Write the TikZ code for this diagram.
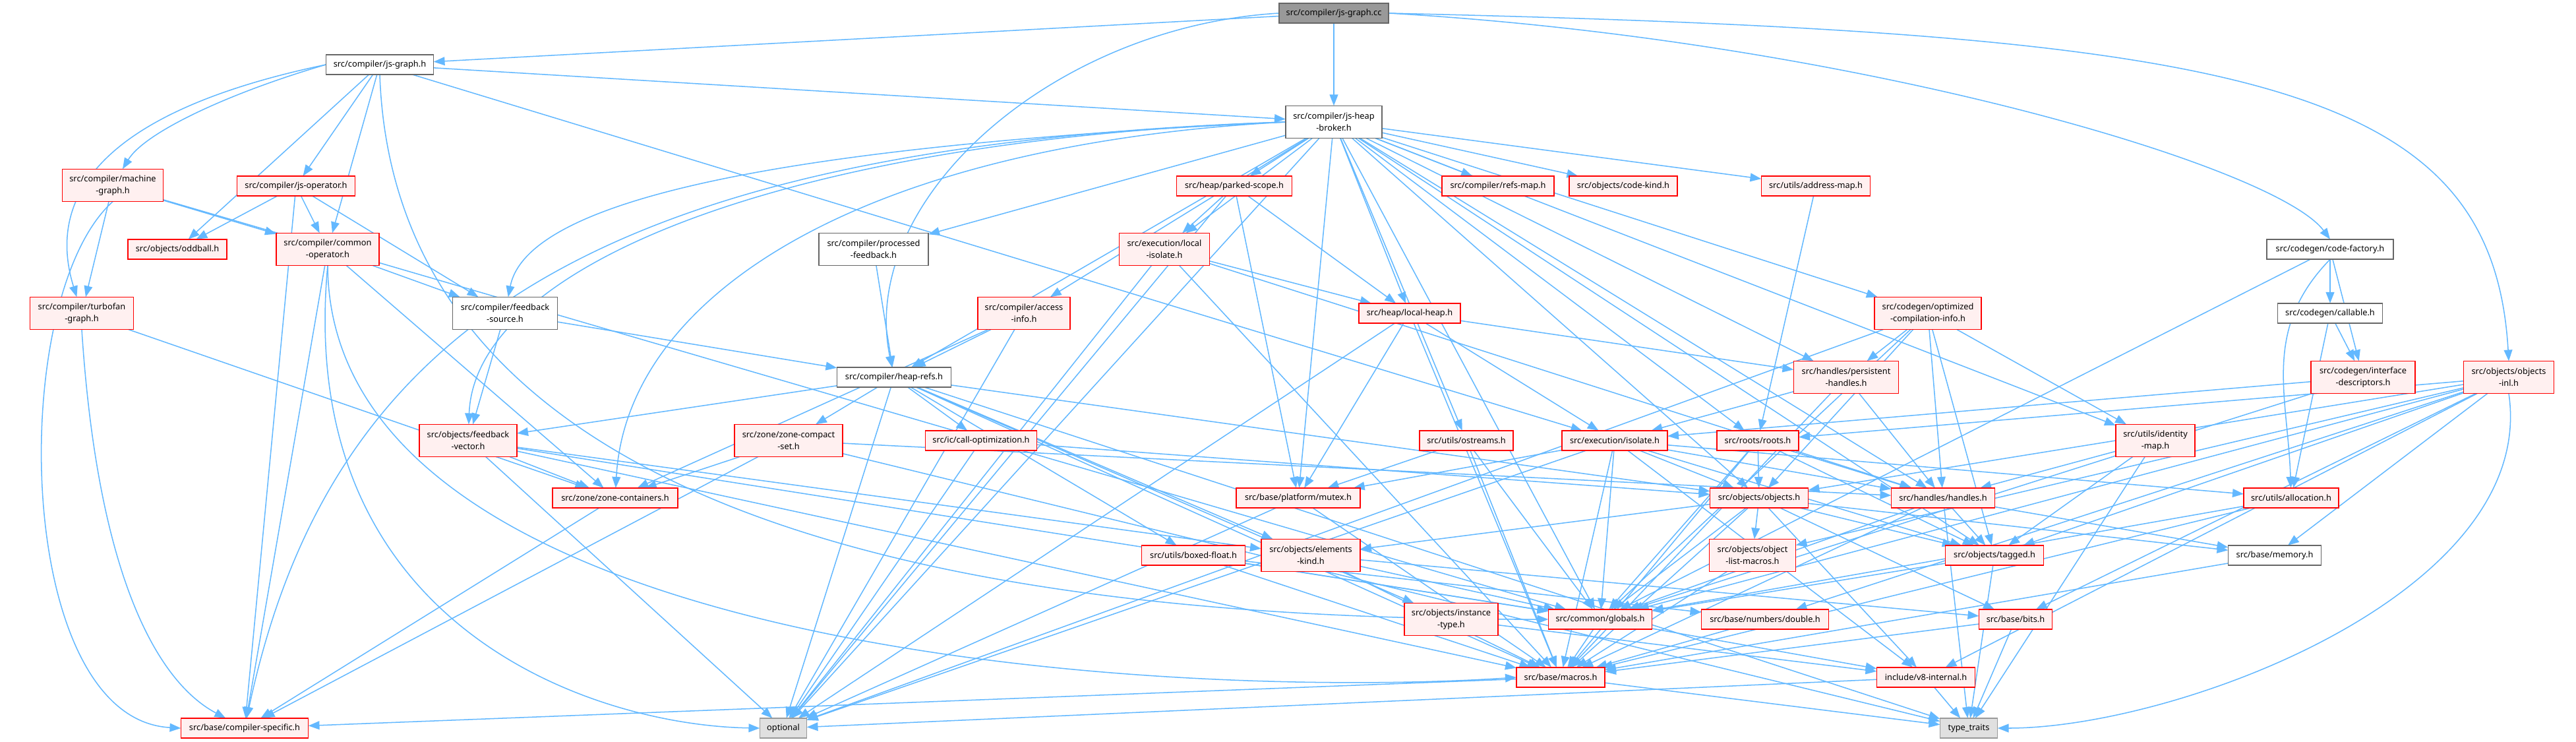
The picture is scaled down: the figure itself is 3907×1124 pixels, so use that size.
\documentclass[tikz,border=0pt]{standalone}
\usepackage{fontspec}
\setmainfont{Noto Sans}
\usetikzlibrary{arrows.meta}
\definecolor{edgeblue}{HTML}{63B8FF}
\definecolor{redline}{HTML}{FF0000}
\definecolor{redfill}{HTML}{FFF0F0}
\definecolor{grayline}{HTML}{666666}
\definecolor{darkfill}{HTML}{999999}
\definecolor{lightfill}{HTML}{E0E0E0}
\pgfdeclarelayer{bg}
\pgfsetlayers{bg,main}
\tikzset{
  file/.style={draw=grayline,fill=white,line width=0.42pt,align=center,inner sep=2pt,minimum height=30pt,font=\fontsize{12.8}{18}\selectfont},
  redfile/.style={file,draw=redline,fill=redfill},
  topfile/.style={file,fill=darkfill},
  sysfile/.style={file,draw=darkfill,fill=lightfill},
  twoline/.style={minimum height=49pt},
  arrow/.style={-{Triangle[length=4.2pt,width=3.2pt]},line width=0.38pt,color=edgeblue}
}
\begin{document}
\begin{tikzpicture}[x=1pt,y=-1pt,scale=0.25,transform shape]
\useasboundingbox (0,0) rectangle (3907,1124);
% top rows
\node[topfile,minimum width=166pt](cc) at (2023,20){src/compiler/js-graph.cc};
\node[file,minimum width=163pt](jsg) at (576,98){src/compiler/js-graph.h};
\node[file,twoline,minimum width=146pt](jhb) at (2023,185){src/compiler/js-heap\\-broker.h};
\node[redfile,twoline,minimum width=153pt](mg) at (171,281){src/compiler/machine\\-graph.h};
\node[redfile,minimum width=179pt](jso) at (449,282){src/compiler/js-operator.h};
\node[redfile,minimum width=175pt](ps) at (1872,282){src/heap/parked-scope.h};
\node[redfile,minimum width=170pt](rm) at (2272,282){src/compiler/refs-map.h};
\node[redfile,minimum width=164pt](ck) at (2462,282){src/objects/code-kind.h};
\node[redfile,minimum width=165pt](am) at (2754,282){src/utils/address-map.h};
\node[redfile,minimum width=150pt](odd) at (269,378){src/objects/oddball.h};
\node[redfile,twoline,minimum width=156pt](co) at (497,378){src/compiler/common\\-operator.h};
\node[file,twoline,minimum width=166pt](pf) at (1325,378){src/compiler/processed\\-feedback.h};
\node[redfile,twoline,minimum width=137pt](li) at (1766,378){src/execution/local\\-isolate.h};
\node[file,minimum width=192pt](cf) at (3534,378){src/codegen/code-factory.h};
\node[redfile,twoline,minimum width=157pt](tg) at (124,475){src/compiler/turbofan\\-graph.h};
\node[file,twoline,minimum width=159pt](fs) at (766,475){src/compiler/feedback\\-source.h};
\node[redfile,twoline,minimum width=140pt](ai) at (1553,475){src/compiler/access\\-info.h};
\node[redfile,minimum width=154pt](lh) at (2138,475){src/heap/local-heap.h};
\node[redfile,twoline,minimum width=162pt](oci) at (2924,475){src/codegen/optimized\\-compilation-info.h};
\node[file,minimum width=159pt](cal) at (3534,475){src/codegen/callable.h};
\node[file,minimum width=173pt](hr) at (1356,572){src/compiler/heap-refs.h};
\node[redfile,twoline,minimum width=159pt](ph) at (2800,572){src/handles/persistent\\-handles.h};
\node[redfile,twoline,minimum width=158pt](idsc) at (3584,572){src/codegen/interface\\-descriptors.h};
\node[redfile,twoline,minimum width=137pt](oi) at (3805,572){src/objects/objects\\-inl.h};
% middle rows
\node[redfile,twoline,minimum width=148pt](fv) at (710,668){src/objects/feedback\\-vector.h};
\node[redfile,twoline,minimum width=164pt](zcs) at (1196,668){src/zone/zone-compact\\-set.h};
\node[redfile,minimum width=169pt](cop) at (1488,668){src/ic/call-optimization.h};
\node[redfile,minimum width=142pt](ost) at (2224,668){src/utils/ostreams.h};
\node[redfile,minimum width=160pt](iso) at (2449,668){src/execution/isolate.h};
\node[redfile,minimum width=124pt](roots) at (2666,668){src/roots/roots.h};
\node[redfile,twoline,minimum width=120pt](idm) at (3269,668){src/utils/identity\\-map.h};
\node[redfile,minimum width=190pt](zc) at (933,755){src/zone/zone-containers.h};
\node[redfile,minimum width=188pt](mtx) at (1969,755){src/base/platform/mutex.h};
\node[redfile,minimum width=149pt](obj) at (2668,755){src/objects/objects.h};
\node[redfile,minimum width=157pt](hh) at (2947,755){src/handles/handles.h};
\node[redfile,minimum width=144pt](alloc) at (3475,755){src/utils/allocation.h};
\node[redfile,minimum width=157pt](bf) at (1810,842){src/utils/boxed-float.h};
\node[redfile,twoline,minimum width=150pt](ek) at (1988,842){src/objects/elements\\-kind.h};
\node[redfile,twoline,minimum width=131pt](olm) at (2658,842){src/objects/object\\-list-macros.h};
\node[redfile,minimum width=149pt](tag) at (3025,842){src/objects/tagged.h};
\node[file,minimum width=141pt](mem) at (3450,842){src/base/memory.h};
% bottom rows
\node[redfile,twoline,minimum width=142pt](it) at (2201,939){src/objects/instance\\-type.h};
\node[redfile,minimum width=157pt](glb) at (2427,939){src/common/globals.h};
\node[redfile,minimum width=193pt](dbl) at (2677,939){src/base/numbers/double.h};
\node[redfile,minimum width=111pt](bits) at (3057,939){src/base/bits.h};
\node[redfile,minimum width=134pt](mac) at (2367,1027){src/base/macros.h};
\node[redfile,minimum width=149pt](v8i) at (2921,1027){include/v8-internal.h};
\node[redfile,minimum width=193pt](csp) at (371,1104){src/base/compiler-specific.h};
\node[sysfile,minimum width=71pt](opt) at (1188,1104){optional};
\node[sysfile,minimum width=87pt](tt) at (2986,1104){type\_traits};
\begin{pgfonlayer}{bg}
% curved includes
\draw[arrow](cc.east) .. controls (2800,60) and (3450,250) .. (cf.north);
\draw[arrow](cc.east) .. controls (3400,50) and (3780,120) .. (oi.north);
\draw[arrow](cc.west) .. controls (1600,40) and (1300,300) .. (hr);
\draw[arrow](jsg.west) .. controls (350,140) and (220,200) .. (mg);
\draw[arrow](jsg.west) .. controls (150,170) and (70,300) .. (tg);
\draw[arrow](jsg.south) .. controls (600,800) and (1500,940) .. (glb.west);
\draw[arrow](mg.south) .. controls (10,450) and (20,1090) .. (csp.west);
\draw[arrow](tg.south) .. controls (150,900) and (250,1040) .. (csp);
\draw[arrow](co.south) .. controls (446,950) and (900,1100) .. (opt.west);
\draw[arrow](co.south) .. controls (500,1000) and (1800,1060) .. (mac.west);
\draw[arrow](jhb.west) .. controls (900,220) and (500,500) .. (csp);
\draw[arrow](jhb.west) .. controls (1200,220) and (800,300) .. (fs);
\draw[arrow](jhb.west) .. controls (1300,220) and (950,450) .. (zc);
\draw[arrow](jhb.west) .. controls (1200,210) and (720,400) .. (fv);
\draw[arrow](cf.south) .. controls (3430,500) and (3470,600) .. (alloc);
\draw[arrow](oi.south) .. controls (3850,900) and (3300,1104) .. (tt.east);
% straight includes
\path[arrow](cc) edge (jsg) edge (jhb);
\path[arrow](jsg) edge (jhb) edge (jso) edge (odd) edge (co) edge (iso);
\path[arrow](mg) edge (co) edge (tg) edge (glb);
\path[arrow](jso) edge (odd) edge (csp) edge (co) edge (fs);
\path[arrow](co) edge (csp) edge (zc) edge (fs);
\path[arrow](tg) edge (zc);
\path[arrow](fs) edge (hr) edge (fv);
\path[arrow](fv) edge (zc) edge (opt) edge (mac) edge (glb) edge (ek);
\path[arrow](zc) edge (csp);
\path[arrow](hr) edge (fv) edge (opt) edge (zcs) edge (cop) edge (ek) edge (it) edge (bf) edge (tt) edge (obj) edge (mac);
\path[arrow](pf) edge (hr);
\path[arrow](ai) edge (zc) edge (hr) edge (opt);
\path[arrow](li) edge (opt) edge (mac) edge (lh) edge (hh);
\path[arrow](ps) edge (li) edge (opt) edge (mtx) edge (lh);
\path[arrow](jhb) edge (mtx) edge (glb) edge (ai) edge (hr) edge (pf) edge (rm) edge (li) edge (hh) edge (ph) edge (lh) edge (ps) edge (ck) edge (obj) edge (tag) edge (roots) edge (am) edge (idm) edge (ost) edge (oci) edge (opt);
\path[arrow](am) edge (roots);
\path[arrow](oci) edge (ph) edge (obj) edge (hh) edge (tag) edge (idm) edge (glb) edge (opt);
\path[arrow](ph) edge (iso) edge (mac) edge (hh);
\path[arrow](idm) edge (hh) edge (tag) edge (tt);
\path[arrow](cf) edge (cal) edge (idsc) edge (glb);
\path[arrow](cal) edge (idsc) edge (alloc);
\path[arrow](idsc) edge (iso) edge (glb);
\path[arrow](oi) edge (roots) edge (obj) edge (tag) edge (mem) edge (bits) edge (v8i) edge (glb) edge (olm) edge (dbl);
\path[arrow](lh) edge (mtx) edge (mac) edge (iso) edge (ph) edge (opt);
\path[arrow](ost) edge (mtx) edge (mac) edge (glb);
\path[arrow](iso) edge (mtx) edge (opt) edge (glb) edge (mac) edge (hh) edge (tag) edge (alloc) edge (obj) edge (v8i);
\path[arrow](roots) edge (glb) edge (mac) edge (obj) edge (tag) edge (hh);
\path[arrow](hh) edge (glb) edge (mac) edge (tag) edge (tt) edge (mem);
\path[arrow](obj) edge (ek) edge (olm) edge (tag) edge (bits) edge (mem) edge (v8i) edge (mac) edge (glb);
\path[arrow](tag) edge (glb) edge (tt);
\path[arrow](ek) edge (mac) edge (glb) edge (bits);
\path[arrow](olm) edge (mac);
\path[arrow](bf) edge (mac) edge (dbl) edge (glb);
\path[arrow](it) edge (v8i);
\path[arrow](glb) edge (mac) edge (v8i);
\path[arrow](dbl) edge (mac);
\path[arrow](bits) edge (mac) edge (tt);
\path[arrow](mem) edge (mac);
\path[arrow](mac) edge (csp) edge (tt);
\path[arrow](v8i) edge (tt) edge (opt);
\path[arrow](mtx) edge (opt) edge (mac);
\path[arrow](alloc) edge (glb) edge (mac);
\path[arrow](zcs) edge (zc) edge (csp) edge (tt) edge (hh);
\path[arrow](cop) edge (obj) edge (opt);
\end{pgfonlayer}
\end{tikzpicture}
\end{document}
